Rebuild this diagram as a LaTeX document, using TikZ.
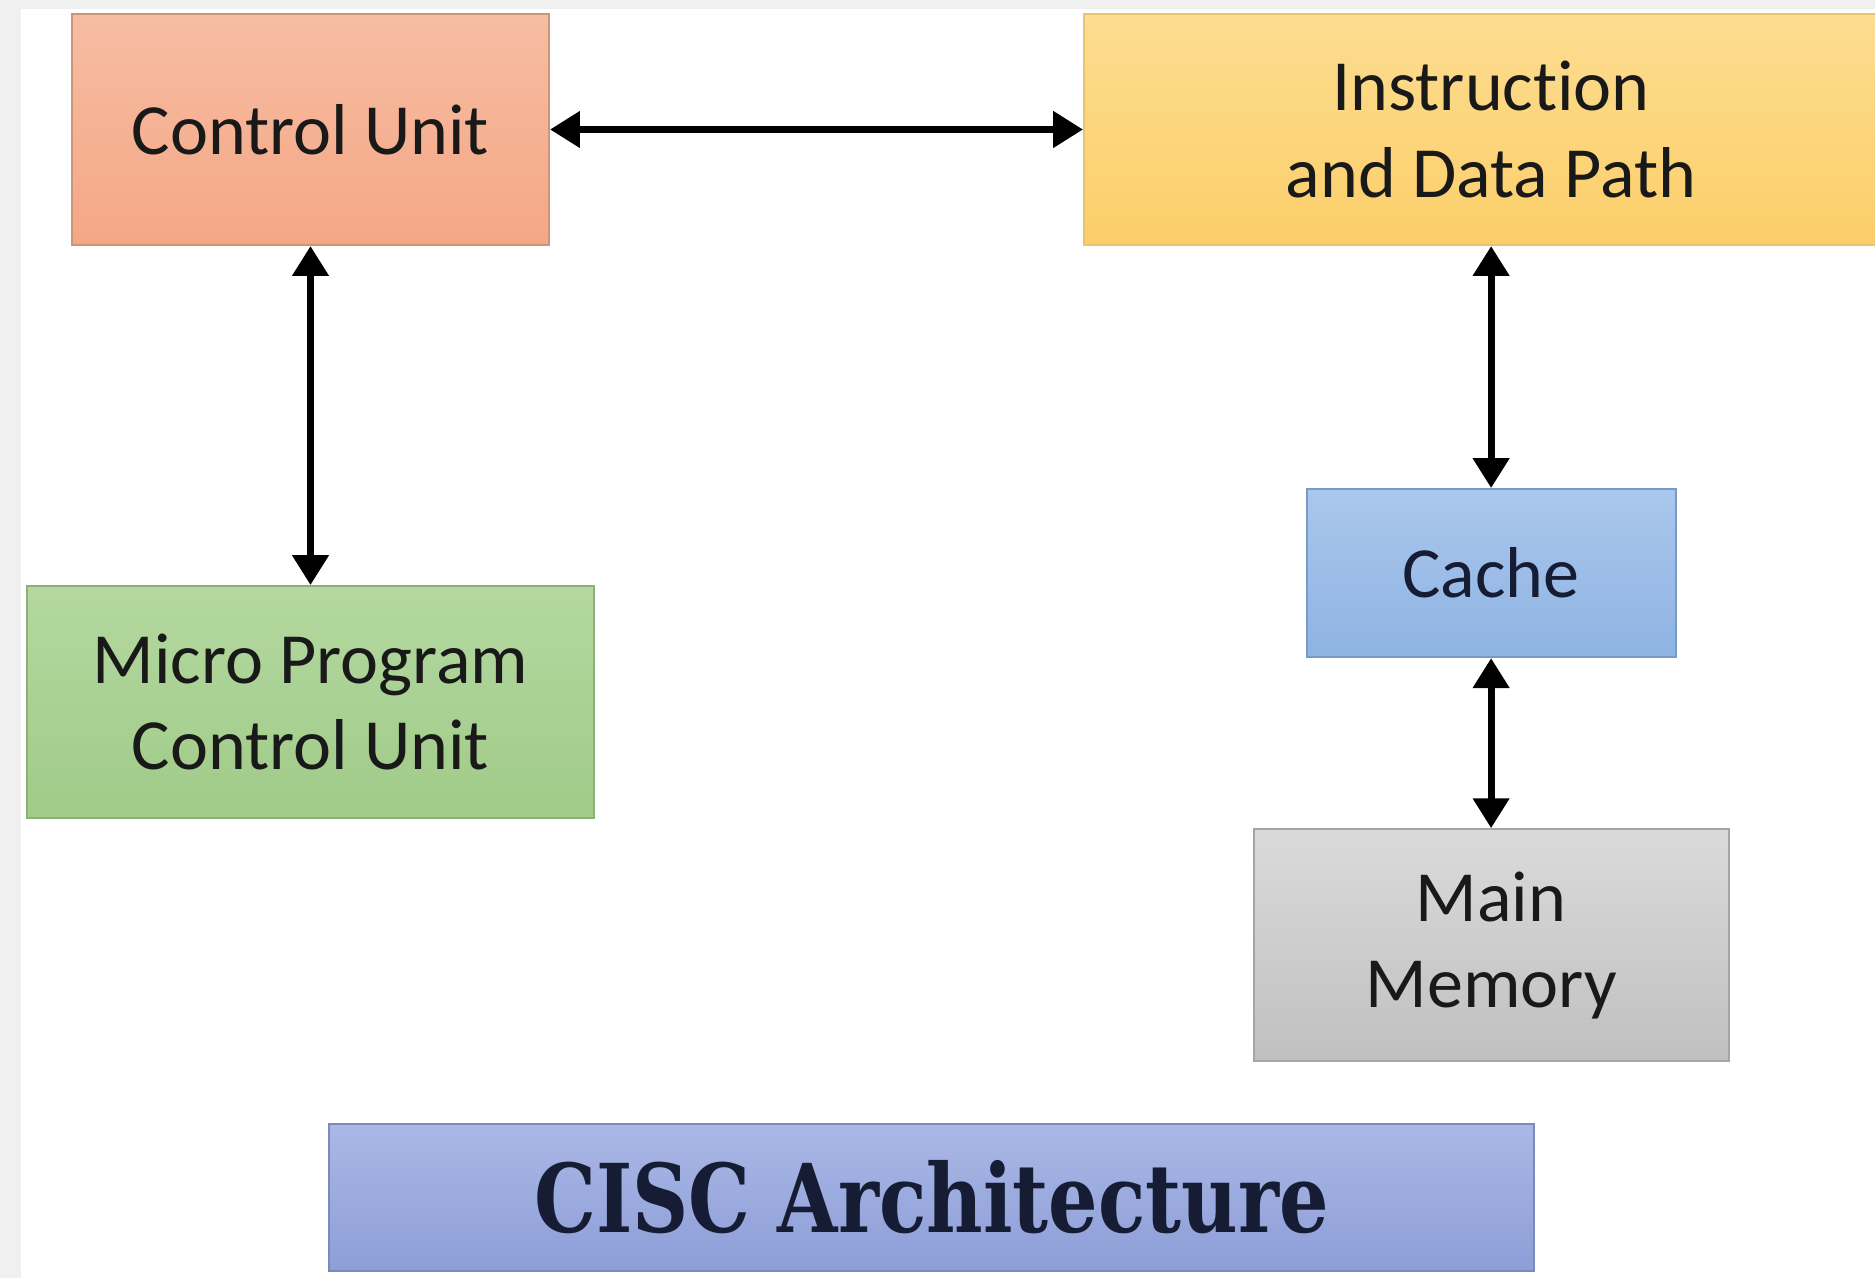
\documentclass[tikz,border=0pt]{standalone}
\usepackage{fontspec}
\setmainfont{Carlito}[Ligatures=CommonOff]
\newfontfamily\titlefont{DejaVu Serif}
\usetikzlibrary{shapes,arrows.meta,calc,positioning}

\definecolor{bgGray}{RGB}{240,240,240}
\definecolor{cuTop}{RGB}{246,189,163}
\definecolor{cuBot}{RGB}{245,167,133}
\definecolor{dpTop}{RGB}{253,221,145}
\definecolor{dpBot}{RGB}{251,206,105}
\definecolor{mpTop}{RGB}{180,216,160}
\definecolor{mpBot}{RGB}{160,203,136}
\definecolor{caTop}{RGB}{170,199,236}
\definecolor{caBot}{RGB}{142,179,227}
\definecolor{mmTop}{RGB}{218,218,218}
\definecolor{mmBot}{RGB}{192,192,192}
\definecolor{tiTop}{RGB}{170,184,229}
\definecolor{tiBot}{RGB}{141,158,216}
\definecolor{navy}{RGB}{22,28,52}

\tikzset{
    block/.style = {draw, rectangle, line width=0.6pt,
        align=center, text=black!90},
    biarrow/.style = {{Triangle[width=10pt,length=8.5pt]}-{Triangle[width=10pt,length=8.5pt]},
        line width=2pt},
}
\tikzstyle{ctrlunit} = [block, draw={rgb,255:red,205;green,148;blue,118}, top color=cuTop, bottom color=cuBot, minimum width=4.77cm, minimum height=2.31cm]
\tikzstyle{datapath} = [block, draw={rgb,255:red,232;green,196;blue,110}, top color=dpTop, bottom color=dpBot, minimum width=8.14cm, minimum height=2.31cm]
\tikzstyle{microprog} = [block, draw={rgb,255:red,140;green,176;blue,118}, top color=mpTop, bottom color=mpBot, minimum width=5.67cm, minimum height=2.32cm]
\tikzstyle{cachebox} = [block, draw={rgb,255:red,120;green,154;blue,200}, top color=caTop, bottom color=caBot, minimum width=3.69cm, minimum height=1.68cm, text=navy]
\tikzstyle{memory} = [block, draw={rgb,255:red,165;green,165;blue,165}, top color=mmTop, bottom color=mmBot, minimum width=4.75cm, minimum height=2.32cm]
\tikzstyle{titlebox} = [block, draw={rgb,255:red,125;green,138;blue,185}, top color=tiTop, bottom color=tiBot, minimum width=12.05cm, minimum height=1.47cm, text=navy, font=\titlefont\bfseries\fontsize{27}{30}\selectfont]

\begin{document}
\begin{tikzpicture}[auto, node distance=2cm, font=\fontsize{20.5}{24.5}\selectfont]

	% page frame
	\clip (0,0) rectangle (18.75,12.78);
	\fill[bgGray] (0,0) rectangle (18.75,12.78);
	\fill[white] (0.21,0) rectangle (18.75,12.69);

	% diagram blocks
	\node (cu) [ctrlunit] at (3.105,11.485) {Control Unit};
	\node (datapath) [datapath, right=5.33cm of cu] {Instruction\\and Data Path};
	\node (micro) [microprog, below=3.39cm of cu] {Micro Program\\Control Unit};
	\node (cache) [cachebox, below=2.42cm of datapath] {Cache};
	\node (mainmem) [memory, below=1.70cm of cache] {Main\\Memory};

	\node (title) [titlebox] at (9.315,0.805) {\scalebox{0.82}[1]{CISC Architecture}};

	% all edges
	\draw[biarrow] (cu) -- (datapath);
	\draw[biarrow] (cu) -- (micro);
	\draw[biarrow] (datapath) -- (cache);
	\draw[biarrow] (cache) -- (mainmem);

\end{tikzpicture}
\end{document}
